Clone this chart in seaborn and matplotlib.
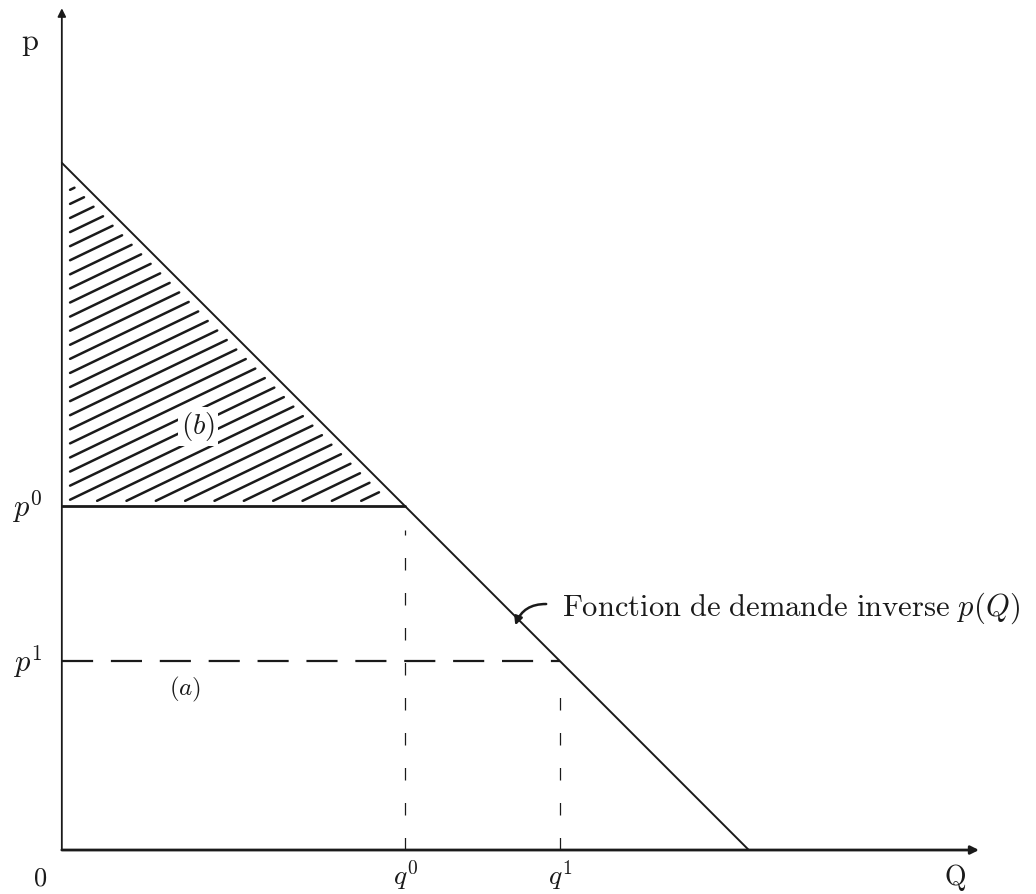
import numpy as np
import pandas as pd
import matplotlib
matplotlib.use("Agg")
import matplotlib.pyplot as plt
import seaborn as sns

# ---- data ----
demand_Q = [0.0, 10.0]          # inverse demand p(Q): endpoints on the axes
demand_p = [10.0, 0.0]
p0, q0 = 5.0, 5.0               # initial price / quantity
p1, q1 = 2.75, 7.25             # lower price / quantity
label_b = "$(b)$"
label_a = "$(a)$"
curve_label = r"$\mathrm{Fonction\ de\ demande\ inverse}\ p(Q)$"

sns.set_theme(style="white")
plt.rcParams["mathtext.fontset"] = "cm"
plt.rcParams["font.family"] = ["DejaVu Serif"]

fig = plt.figure(figsize=(10.36, 8.94), dpi=100)
ax = fig.add_axes([0, 0, 1, 1])
ax.set_xlim(-0.90, 14.18)
ax.set_ylim(-0.64, 12.37)
ax.axis("off")

ink = "#1a1a1a"

# demand curve
df = pd.DataFrame({"Q": demand_Q, "p": demand_p})
sns.lineplot(data=df, x="Q", y="p", ax=ax, color=ink, lw=1.4)

# p0 solid horizontal
ax.plot([0, q0], [p0, p0], color=ink, lw=2.0)
# p1 dashed horizontal
ax.plot([0, q1], [p1, p1], color=ink, lw=1.6, dashes=(14, 8))
# vertical dashed guides
ax.plot([q0, q0], [0, p0 - 0.35], color=ink, lw=0.9, dashes=(10, 18))
ax.plot([q1, q1], [0, p1 - 0.2], color=ink, lw=0.9, dashes=(10, 18))

# axes with arrows
ax.annotate("", xy=(0, 12.25), xytext=(0, 0),
            arrowprops=dict(arrowstyle="-|>", color=ink, lw=1.3,
                            mutation_scale=12, shrinkA=0, shrinkB=0))
ax.annotate("", xy=(13.35, 0), xytext=(0, 0),
            arrowprops=dict(arrowstyle="-|>", color=ink, lw=2.0,
                            mutation_scale=12, shrinkA=0, shrinkB=0))

# hatching of consumer surplus triangle (b)
slope = 0.48
spacing = 0.205
pmax = demand_p[0]
c_low = p0 - slope * q0
cs = np.arange(pmax - 0.45, c_low, -spacing)
gap = 0.12
for c in cs:
    xl = max(0.0, (p0 - c) / slope)
    xr = (pmax - c) / (1 + slope)
    xl += gap
    xr -= gap
    if c < p0:
        xl += 0.05
    if xr - xl > 0.05:
        ax.plot([xl, xr], [c + slope * xl, c + slope * xr], color=ink, lw=1.8,
                solid_capstyle="round")

ax.text(1.98, 6.16, label_b, fontsize=21, ha="center", va="center", color=ink,
        bbox=dict(facecolor="white", edgecolor="none", pad=2))
ax.text(1.79, 2.33, label_a, fontsize=18, ha="center", va="center", color=ink)

# curve label with curved arrow
ax.text(7.28, 3.52, curve_label, fontsize=22, ha="left", va="center", color=ink)
ax.annotate("", xy=(6.6, 3.27), xytext=(7.05, 3.58),
            arrowprops=dict(arrowstyle="-|>", color=ink, lw=1.8,
                            mutation_scale=12, connectionstyle="arc3,rad=0.35",
                            shrinkA=0, shrinkB=0))

# axis labels
ax.text(-0.47, 11.75, r"$\mathrm{p}$", fontsize=22, ha="center", va="center", color=ink)
ax.text(13.0, -0.40, r"$\mathrm{Q}$", fontsize=20, ha="center", va="center", color=ink)
ax.text(-0.32, -0.40, r"$0$", fontsize=19, ha="center", va="center", color=ink)
ax.text(-0.5, p0, r"$p^0$", fontsize=22, ha="center", va="center", color=ink)
ax.text(-0.5, p1, r"$p^1$", fontsize=22, ha="center", va="center", color=ink)
ax.text(q0, -0.36, r"$q^0$", fontsize=20, ha="center", va="center", color=ink)
ax.text(q1, -0.36, r"$q^1$", fontsize=20, ha="center", va="center", color=ink)

fig.savefig("out.png", dpi=100, facecolor="white")
